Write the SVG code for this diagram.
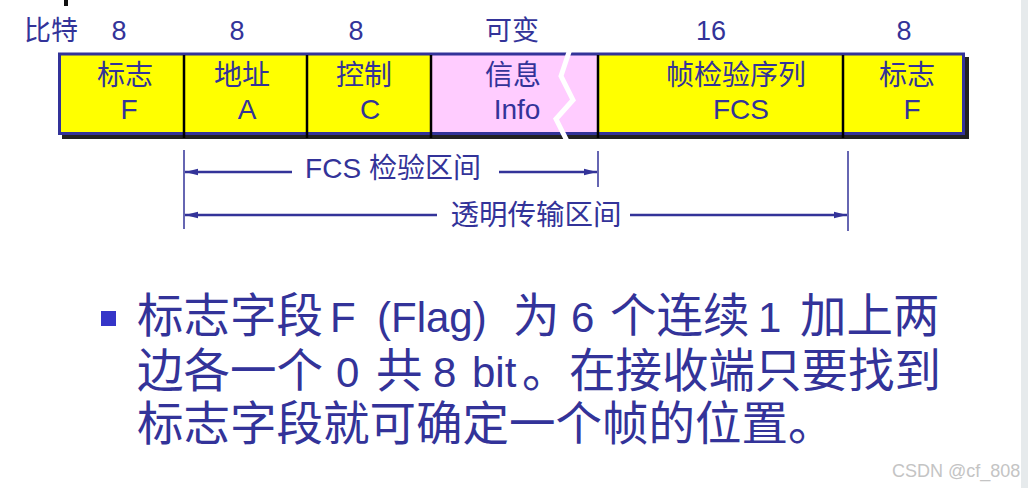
<svg xmlns="http://www.w3.org/2000/svg" width="1028" height="488" viewBox="0 0 1028 488">
<style>
.t{fill:#333399;font-family:"Liberation Sans","Noto Sans CJK SC",sans-serif}
.top{font-size:27px;text-anchor:middle}
.lbl{font-size:28px;text-anchor:middle}
.div{stroke:#000;stroke-width:2.5}
.conn{stroke:#333399;stroke-width:2.5;fill:none}
.vl{stroke:#333399;stroke-width:1.5}
.big{font-size:46.5px}
.lat{font-size:42px}
</style>
<defs>
<marker id="ah" markerUnits="userSpaceOnUse" markerWidth="14" markerHeight="8" refX="13" refY="4" orient="auto">
<path d="M0,0.8 L13,4 L0,7.2 Z" fill="#333399"/>
</marker>
</defs>
<rect x="0" y="0" width="1028" height="488" fill="#fff"/>
<rect x="1021" y="0" width="7" height="488" fill="#e6eaec"/>
<rect x="64" y="0" width="4" height="6" fill="#111"/>

<g id="bits-header">
<text class="t" x="24" y="40" font-size="27">比特</text>
<text class="t top" x="119" y="40">8</text>
<text class="t top" x="237" y="40">8</text>
<text class="t top" x="356" y="40">8</text>
<text class="t top" x="512" y="40">可变</text>
<text class="t top" x="711" y="40">16</text>
<text class="t top" x="904" y="40">8</text>
</g>

<g id="frame">
<rect x="62" y="57" width="907" height="82" fill="#222"/>
<rect x="59.5" y="54" width="372" height="79.5" fill="#ffff00"/>
<rect x="431" y="54" width="167" height="79.5" fill="#ffccff"/>
<rect x="598" y="54" width="365.5" height="79.5" fill="#ffff00"/>
<rect x="59.5" y="54" width="904" height="79.5" fill="none" stroke="#333399" stroke-width="3"/>
</g>

<g id="field-flag1">
<text class="t lbl" x="125" y="85">标志</text>
<text class="t lbl" x="129" y="119">F</text>
</g>
<g id="field-address">
<line class="div" x1="184" y1="55" x2="184" y2="138"/>
<text class="t lbl" x="242" y="85">地址</text>
<text class="t lbl" x="247" y="119">A</text>
</g>
<g id="field-control">
<line class="div" x1="307" y1="55" x2="307" y2="138"/>
<text class="t lbl" x="364" y="85">控制</text>
<text class="t lbl" x="370" y="119">C</text>
</g>
<g id="field-info">
<line class="div" x1="431" y1="55" x2="431" y2="138"/>
<text class="t lbl" x="513" y="85">信息</text>
<text class="t lbl" x="517" y="119">Info</text>
<polyline points="571,46 561,76 573,100 556,119 567,141" fill="none" stroke="#fff" stroke-width="5"/>
</g>
<g id="field-fcs">
<line class="div" x1="598" y1="55" x2="598" y2="138"/>
<text class="t lbl" x="736" y="85">帧检验序列</text>
<text class="t lbl" x="741" y="119">FCS</text>
</g>
<g id="field-flag2">
<line class="div" x1="843" y1="55" x2="843" y2="138"/>
<text class="t lbl" x="907" y="85">标志</text>
<text class="t lbl" x="912" y="119">F</text>
</g>

<g id="connectors">
<line class="vl" x1="184" y1="150" x2="184" y2="229"/>
<line class="vl" x1="598" y1="151" x2="598" y2="187"/>
<line class="vl" x1="848" y1="151" x2="848" y2="231"/>
<line class="conn" x1="292" y1="172" x2="185" y2="172" marker-end="url(#ah)"/>
<line class="conn" x1="499" y1="172" x2="597" y2="172" marker-end="url(#ah)"/>
<line class="conn" x1="437" y1="215" x2="185" y2="215" marker-end="url(#ah)"/>
<line class="conn" x1="630" y1="215" x2="847" y2="215" marker-end="url(#ah)"/>
</g>

<g id="range-labels">
<text class="t" x="393" y="178" font-size="28" text-anchor="middle">FCS 检验区间</text>
<text class="t" x="536" y="225" font-size="28.5" text-anchor="middle">透明传输区间</text>
</g>

<g id="note">
<rect x="101" y="311" width="15" height="15" fill="#3535c8"/>
<text class="t big" y="332"><tspan x="137">标志字段</tspan><tspan class="lat" x="330">F</tspan><tspan class="lat" x="377">(Flag)</tspan><tspan x="513">为</tspan><tspan class="lat" x="571">6</tspan><tspan x="610">个连续</tspan><tspan class="lat" x="758">1</tspan><tspan x="800">加上两</tspan></text>
<text class="t big" y="387"><tspan x="137">边各一个</tspan><tspan class="lat" x="336">0</tspan><tspan x="376">共</tspan><tspan class="lat" x="433">8</tspan><tspan class="lat" x="472">bit</tspan><tspan x="522">。</tspan><tspan x="569">在接收端只要找到</tspan></text>
<text class="t big" x="137" y="440">标志字段就可确定一个帧的位置。</text>
</g>

<text x="892" y="477" font-family="Liberation Sans,sans-serif" font-size="18" fill="#c4c4c4">CSDN @cf_808</text>
</svg>
